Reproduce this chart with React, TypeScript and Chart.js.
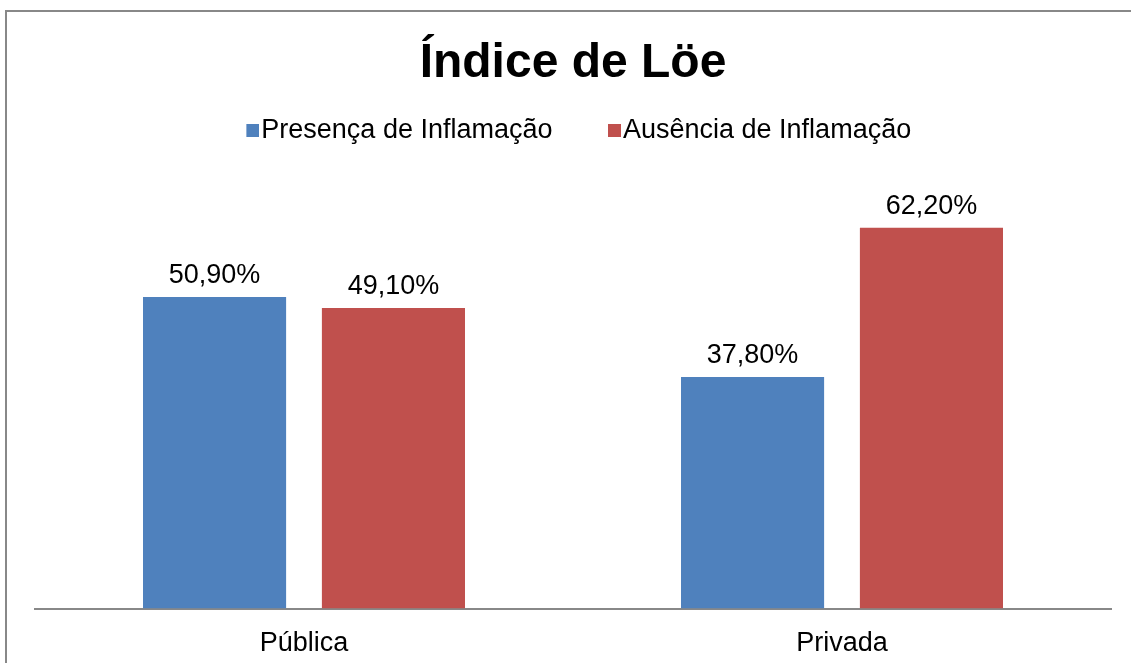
import React, { useEffect, useRef } from "react";
import { Chart, registerables } from "chart.js";

Chart.register(...registerables);

const categories = ["Pública", "Privada"];
const presenca = [50.9, 37.8];
const ausencia = [49.1, 62.2];
const seriesNames = ["Presença de Inflamação", "Ausência de Inflamação"];
const seriesColors = ["#4F81BD", "#C0504D"];
const chartTitle = "Índice de Löe";

const FONT = "'Liberation Sans', Arial, sans-serif";

const valueLabels = {
  id: "valueLabels",
  afterDatasetsDraw(chart: any) {
    const ctx = chart.ctx;
    ctx.save();
    ctx.font = `27px ${FONT}`;
    ctx.fillStyle = "#000";
    ctx.textAlign = "center";
    ctx.textBaseline = "alphabetic";
    chart.data.datasets.forEach((ds: any, i: number) => {
      const meta = chart.getDatasetMeta(i);
      meta.data.forEach((bar: any, j: number) => {
        const v = ds.data[j] as number;
        const txt = v.toFixed(2).replace(".", ",") + "%";
        ctx.fillText(txt, bar.x, bar.y - 14);
      });
    });
    ctx.restore();
  },
};

function makeSwatch(color: string): HTMLCanvasElement {
  // legend marker: square sits at the right end so it lies close to the text
  const c = document.createElement("canvas");
  c.width = 36;
  c.height = 13;
  const g = c.getContext("2d") as CanvasRenderingContext2D;
  g.fillStyle = color;
  g.fillRect(23, 0, 13, 13);
  return c;
}

export default function App() {
  const ref = useRef<HTMLCanvasElement | null>(null);
  useEffect(() => {
    document.body.style.margin = "0";
    Chart.defaults.color = "#000";
    Chart.defaults.font.family = FONT;
    const swatches = seriesColors.map(makeSwatch);
    const chart = new Chart(ref.current as HTMLCanvasElement, {
      type: "bar",
      data: {
        labels: categories,
        datasets: [
          {
            label: seriesNames[0],
            data: presenca,
            backgroundColor: seriesColors[0],
            categoryPercentage: 0.665,
            barPercentage: 0.8,
          },
          {
            label: seriesNames[1],
            data: ausencia,
            backgroundColor: seriesColors[1],
            categoryPercentage: 0.665,
            barPercentage: 0.8,
          },
        ],
      },
      options: {
        animation: false,
        responsive: true,
        maintainAspectRatio: false,
        layout: { padding: { left: 35, right: 20, top: 0, bottom: -16 } },
        plugins: {
          title: {
            display: true,
            text: chartTitle,
            color: "#000",
            font: { size: 48, weight: "bold", family: FONT },
            padding: { top: 35, bottom: -20 },
          },
          legend: {
            display: true,
            position: "top",
            labels: {
              usePointStyle: true,
              pointStyleWidth: 13,
              boxWidth: 13,
              boxHeight: 13,
              padding: 44,
              color: "#000",
              font: { size: 27, family: FONT },
              generateLabels: (ch: any) => {
                const items = (Chart.defaults.plugins.legend.labels as any).generateLabels(ch);
                items.forEach((it: any, i: number) => {
                  it.pointStyle = swatches[i % swatches.length];
                });
                return items;
              },
            },
          },
          tooltip: { enabled: false },
        },
        scales: {
          x: {
            grid: { display: false, drawTicks: false },
            border: { display: true, color: "#888", width: 2 },
            ticks: { color: "#000", padding: 19, font: { size: 27, family: FONT } },
          },
          y: {
            display: false,
            min: 0,
            max: 74.3,
          },
        },
      },
      plugins: [valueLabels],
    });
    return () => chart.destroy();
  }, []);

  return (
    <div style={{ position: "fixed", left: 0, top: 0, width: 1131, height: 663, background: "#fff", overflow: "hidden" }}>
      <div
        style={{
          position: "absolute",
          left: 5,
          top: 10,
          width: 1126,
          height: 653,
          borderLeft: "2px solid #888",
          borderTop: "2px solid #888",
          boxSizing: "border-box",
        }}
      />
      <canvas ref={ref} style={{ position: "absolute", left: 0, top: 0, width: 1131, height: 663 }} />
    </div>
  );
}
